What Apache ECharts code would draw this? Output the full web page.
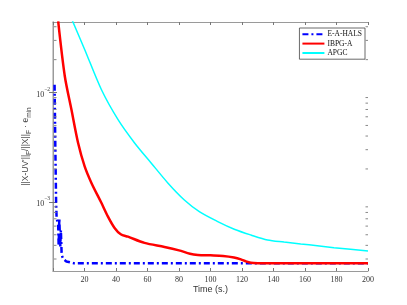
<!DOCTYPE html>
<html><head><meta charset="utf-8">
<script src="https://cdn.jsdelivr.net/npm/echarts@6/dist/echarts.min.js"></script>
<style>html,body{margin:0;padding:0;background:#fff}#c{width:407px;height:305px}</style>
</head><body><div id="c"></div>
<script>
// ---- data ----
const seriesNames = ['E-A-HALS', 'IBPG-A', 'APGC'];
const eahalsT = [1, 1.5, 2, 2.3, 3.3, 3.6, 4.0, 4.6, 5.0, 5.5, 6.5, 8.5, 13, 40, 80, 120, 160, 200];
const eahalsV = [0.0118, 0.0030, 9.4e-4, 7.1e-4, 6.15e-4, 3.94e-4, 7.1e-4, 3.86e-4, 5.5e-4, 3.27e-4, 3.0e-4, 2.85e-4, 2.75e-4, 2.75e-4, 2.75e-4, 2.75e-4, 2.75e-4, 2.75e-4];
const ibpgT = [3.3, 7.5, 11.7, 15.9, 20.1, 24.4, 30.7, 34.9, 39.1, 43, 47.6, 58.1, 70.8, 80, 87, 92, 100, 108, 114.9, 119.3, 122.5, 125.6, 130, 160, 200];
const ibpgV = [0.0448, 0.0141, 6.98e-3, 3.47e-3, 2.11e-3, 1.49e-3, 9.8e-4, 7.33e-4, 5.77e-4, 5.05e-4, 4.8e-4, 4.21e-4, 3.87e-4, 3.6e-4, 3.35e-4, 3.27e-4, 3.24e-4, 3.2e-4, 3.1e-4, 2.98e-4, 2.85e-4, 2.77e-4, 2.75e-4, 2.75e-4, 2.75e-4];
const apgcT = [12.3, 20.1, 30.7, 41.3, 51.8, 62.3, 72.9, 83.4, 92.9, 104.6, 115.1, 125.6, 136.2, 146.7, 157.3, 167.8, 178.4, 188.9, 200];
const apgcV = [0.0455, 0.0248, 0.01066, 5.65e-3, 3.46e-3, 2.27e-3, 1.49e-3, 1.04e-3, 8.14e-4, 6.6e-4, 5.62e-4, 4.98e-4, 4.48e-4, 4.29e-4, 4.12e-4, 3.97e-4, 3.81e-4, 3.68e-4, 3.55e-4];
const xTicks = [0, 20, 40, 60, 80, 100, 120, 140, 160, 180, 200];
const yMajorTicks = [1e-3, 1e-2];
const yMinorTicks = [3e-4, 4e-4, 5e-4, 6e-4, 7e-4, 8e-4, 9e-4, 2e-3, 3e-3, 4e-3, 5e-3, 6e-3, 7e-3, 8e-3, 9e-3, 2e-2, 3e-2, 4e-2];
const xRange = [0, 200];
const yRange = [2.33e-4, 0.0442];

const zip = (a, b) => a.map((v, i) => [v, b[i]]);
const serif = 'Liberation Serif';
const sans = 'Liberation Sans';
const boxColor = '#9a9a9a';

const chart = echarts.init(document.getElementById('c'), null, {renderer: 'canvas'});

function isPow10(v) { const l = Math.log10(v); return Math.abs(l - Math.round(l)) < 1e-6; }

const xBase = {
  type: 'value', min: xRange[0], max: xRange[1], interval: xTicks[1] - xTicks[0],
  splitLine: {show: false},
  axisLine: {show: true, onZero: false, lineStyle: {color: boxColor, width: 1}},
  axisTick: {show: true, inside: true, length: 3, lineStyle: {color: '#777'}},
};
const yBase = {
  type: 'log', logBase: 10, min: yRange[0], max: yRange[1],
  splitLine: {show: false},
  axisLine: {show: true, lineStyle: {color: boxColor, width: 1}},
  axisTick: {show: true, inside: true, length: 4, lineStyle: {color: '#777'},
    customValues: yMajorTicks},
};

chart.setOption({
  animation: false,
  backgroundColor: '#fff',
  grid: {left: 53, right: 39, top: 22, bottom: 34, containLabel: false},
  legend: {
    data: seriesNames, orient: 'vertical', right: 42, top: 28,
    itemWidth: 22, itemHeight: 8, itemGap: 1,
    padding: [2, 3, 2, 2],
    borderColor: '#444', borderWidth: 0.8, backgroundColor: '#fff',
    itemStyle: {opacity: 0},
    textStyle: {fontFamily: serif, fontSize: 7.5, color: '#111', padding: [0, 0, 0, -2]},
  },
  xAxis: [
    Object.assign({}, xBase, {
      position: 'bottom',
      name: 'Time (s.)', nameLocation: 'middle', nameGap: 14, nameMoveOverlap: false,
      nameTextStyle: {fontFamily: sans, fontSize: 9, color: '#333'},
      axisLabel: {fontFamily: serif, fontSize: 8, color: '#333', margin: 5,
        formatter: v => (v === 0 ? '' : String(v))},
    }),
    Object.assign({}, xBase, {position: 'top', axisLabel: {show: false}}),
  ],
  yAxis: [
    Object.assign({}, yBase, {
      position: 'left',
      axisLine: {show: true, lineStyle: {color: '#bdbdbd', width: 1.5}},
      name: '{n|||X-UV\'||}{s|F}{n|/||X||}{s|F}{n| · e}{s|min}',
      nameLocation: 'middle', nameGap: 20, nameMoveOverlap: false,
      nameTextStyle: {
        fontFamily: sans, fontSize: 8.5, color: '#444',
        rich: {
          n: {fontFamily: sans, fontSize: 8.5, color: '#444', verticalAlign: 'top', lineHeight: 12},
          s: {fontFamily: sans, fontSize: 6.5, color: '#444', verticalAlign: 'bottom', lineHeight: 12, padding: [6, 0, 0, 0]},
        },
      },
      axisLabel: {
        margin: 3, customValues: yMajorTicks,
        formatter: v => isPow10(v) ? '{b|10}{s|' + Math.round(Math.log10(v)).toString().replace('-', '−') + '}' : '',
        rich: {
          b: {fontFamily: serif, fontSize: 8, color: '#333', verticalAlign: 'bottom', lineHeight: 12, padding: [4, 0, 0, 0]},
          s: {fontFamily: serif, fontSize: 5.5, color: '#333', verticalAlign: 'top', lineHeight: 12, padding: [0, 0, 4, 0]},
        },
      },
    }),
    Object.assign({}, yBase, {position: 'right', axisLabel: {show: false}}),
  ],
  series: [
    {
      name: 'minorTicks', type: 'custom', xAxisIndex: 0, yAxisIndex: 0, silent: true, z: 10,
      data: yMinorTicks.map(v => [xRange[0], v]),
      renderItem: function (params, api) {
        const p = api.coord([xRange[0], api.value(1)]);
        const cs = params.coordSys;
        const st = {stroke: '#888', lineWidth: 1};
        return {type: 'group', children: [
          {type: 'line', shape: {x1: cs.x + 1, y1: p[1], x2: cs.x + 3.5, y2: p[1]}, style: st},
          {type: 'line', shape: {x1: cs.x + cs.width, y1: p[1], x2: cs.x + cs.width - 2.5, y2: p[1]}, style: st},
        ]};
      },
    },
    {
      name: 'APGC', type: 'line', data: zip(apgcT, apgcV), showSymbol: false,
      lineStyle: {color: '#00ffff', width: 1.5}, itemStyle: {color: '#00ffff'}, smooth: 0.3, z: 2,
    },
    {
      name: 'E-A-HALS', type: 'line', data: zip(eahalsT, eahalsV), showSymbol: false,
      lineStyle: {color: '#0000ff', width: 2.5, type: [6, 3, 2, 3]}, itemStyle: {color: '#0000ff'}, z: 3,
    },
    {
      name: 'IBPG-A', type: 'line', data: zip(ibpgT, ibpgV), showSymbol: false,
      lineStyle: {color: '#ff0000', width: 2.5}, itemStyle: {color: '#ff0000'}, smooth: 0.3, z: 4,
    },
  ],
});
</script></body></html>
